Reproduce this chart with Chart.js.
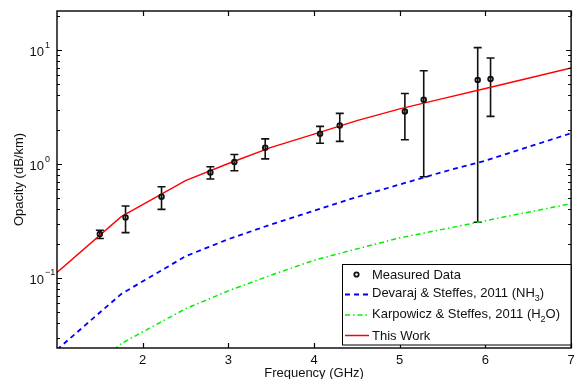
<!DOCTYPE html>
<html>
<head>
<meta charset="utf-8">
<script src="https://cdn.jsdelivr.net/npm/chart.js@4"></script>
<style>
html, body { margin: 0; padding: 0; background: #fff; }
</style>
</head>
<body>
<canvas id="myChart" width="577" height="379"></canvas>
<script>
// measured points (GHz, dB/km) with error bar limits
const freqMeas = [1.50, 1.80, 2.22, 2.79, 3.07, 3.43, 4.07, 4.30, 5.06, 5.28, 5.91, 6.06];
const opacMeas = [0.243, 0.340, 0.517, 0.844, 1.04, 1.39, 1.84, 2.18, 2.89, 3.66, 5.46, 5.57];
const errLow   = [0.222, 0.250, 0.400, 0.739, 0.873, 1.11, 1.52, 1.58, 1.63, 0.774, 0.308, 2.62];
const errHigh  = [0.262, 0.428, 0.632, 0.947, 1.21, 1.66, 2.14, 2.78, 4.16, 6.58, 10.5, 8.5];

// model curves
const modelFreq = [1, 1.75, 2.5, 3, 3.5, 4, 4.5, 5, 5.5, 6, 6.5, 7];
const thisWork  = [0.112, 0.345, 0.714, 1.01, 1.40, 1.83, 2.40, 3.05, 3.75, 4.60, 5.66, 6.95];
const devaraj   = [0.0235, 0.0724, 0.155, 0.219, 0.295, 0.389, 0.513, 0.661, 0.851, 1.07, 1.41, 1.86];
const karpowicz = [0.0087, 0.0266, 0.0537, 0.0771, 0.106, 0.143, 0.180, 0.225, 0.267, 0.318, 0.378, 0.449];

const xTicks = [2, 3, 4, 5, 6, 7];
const yDecades = [-2, -1, 0, 1];
const yLabelExp = { '-1': '\u22121', '0': '0', '1': '1' };

const FONT = '"Liberation Sans", Arial, Helvetica, sans-serif';

let puntos = (xs, ys) => xs.map((x, i) => ({ x: x, y: ys[i] }));

const ejesPlugin = {
    id: 'ejes',
    beforeDatasetsDraw(chart) {
        const c = chart.ctx;
        const xs = chart.scales.x, ys = chart.scales.y;
        c.save();
        c.strokeStyle = '#111';
        c.lineWidth = 1.6;
        freqMeas.forEach((f, i) => {
            const px = xs.getPixelForValue(f);
            const pTop = ys.getPixelForValue(errHigh[i]);
            const pBot = ys.getPixelForValue(errLow[i]);
            c.beginPath();
            c.moveTo(px, pTop); c.lineTo(px, pBot);
            c.moveTo(px - 4, pTop); c.lineTo(px + 4, pTop);
            c.moveTo(px - 4, pBot); c.lineTo(px + 4, pBot);
            c.stroke();
        });
        c.restore();
    },
    afterDatasetsDraw(chart) {
        const c = chart.ctx;
        const a = chart.chartArea;
        const xs = chart.scales.x, ys = chart.scales.y;
        c.save();
        c.strokeStyle = '#000';
        c.lineWidth = 1.4;
        c.strokeRect(a.left, a.top, a.right - a.left, a.bottom - a.top);

        // x ticks (inward, bottom and top)
        c.lineWidth = 1.2;
        c.beginPath();
        xTicks.forEach(v => {
            const px = Math.round(xs.getPixelForValue(v)) + 0.5;
            c.moveTo(px, a.bottom); c.lineTo(px, a.bottom - 5);
            c.moveTo(px, a.top); c.lineTo(px, a.top + 5);
        });
        // y ticks (log, inward, left and right)
        yDecades.forEach(d => {
            for (let m = 1; m <= 9; m++) {
                const v = m * Math.pow(10, d);
                if (v < ys.min || v > ys.max) continue;
                const py = Math.round(ys.getPixelForValue(v)) + 0.5;
                const len = m === 1 ? 5 : 3;
                c.moveTo(a.left, py); c.lineTo(a.left + len, py);
                c.moveTo(a.right, py); c.lineTo(a.right - len, py);
            }
        });
        c.stroke();

        c.fillStyle = '#111';
        // x labels
        c.font = '13px ' + FONT;
        c.textAlign = 'center';
        c.textBaseline = 'alphabetic';
        xTicks.forEach(v => {
            c.fillText(String(v), xs.getPixelForValue(v), a.bottom + 16);
        });
        c.fillText('Frequency (GHz)', (a.left + a.right) / 2, a.bottom + 29);

        // y labels 10^n
        yDecades.forEach(d => {
            const v = Math.pow(10, d);
            if (v < ys.min || v > ys.max) return;
            const py = ys.getPixelForValue(v);
            c.font = '13px ' + FONT;
            c.textAlign = 'right';
            c.fillText('10', a.left - 13, py + 6);
            c.font = '9px ' + FONT;
            c.textAlign = 'left';
            c.fillText(yLabelExp[String(d)], a.left - 12, py - 2.5);
        });

        // y title
        c.save();
        c.translate(23, (a.top + a.bottom) / 2);
        c.rotate(-Math.PI / 2);
        c.font = '13px ' + FONT;
        c.textAlign = 'center';
        c.fillText('Opacity (dB/km)', 0, 0);
        c.restore();

        // legend
        const lx = 342.5, ly = 264.5, lw = 228.5, lh = 80.5;
        c.fillStyle = '#fff';
        c.fillRect(lx, ly, lw, lh);
        c.strokeStyle = '#000';
        c.lineWidth = 1;
        c.strokeRect(lx, ly, lw, lh);

        const filas = [274.5, 294.5, 315, 335.5];
        const x0 = 345, x1 = 369, tx = 372;
        // measured marker
        c.strokeStyle = '#111';
        c.lineWidth = 1.8;
        c.beginPath();
        c.arc((x0 + x1) / 2 - 0.5, filas[0], 2.2, 0, Math.PI * 2);
        c.stroke();
        // devaraj
        c.strokeStyle = '#0000ff'; c.lineWidth = 1.8; c.setLineDash([5, 4]);
        c.beginPath(); c.moveTo(x0, filas[1]); c.lineTo(x1, filas[1]); c.stroke();
        // karpowicz
        c.strokeStyle = '#00f000'; c.lineWidth = 1.5; c.setLineDash([5, 3, 1.5, 3]);
        c.beginPath(); c.moveTo(x0, filas[2]); c.lineTo(x1, filas[2]); c.stroke();
        // this work
        c.strokeStyle = '#ff0000'; c.lineWidth = 1.5; c.setLineDash([]);
        c.beginPath(); c.moveTo(x0, filas[3]); c.lineTo(x1, filas[3]); c.stroke();

        c.fillStyle = '#111';
        c.textAlign = 'left';
        const texto = (partes, y) => {
            let x = tx;
            partes.forEach(p => {
                c.font = (p.sub ? '9px ' : '13px ') + FONT;
                c.fillText(p.t, x, y + (p.sub ? 4 : 0));
                x += c.measureText(p.t).width;
            });
        };
        texto([{ t: 'Measured Data' }], filas[0] + 4.5);
        texto([{ t: 'Devaraj & Steffes, 2011 (NH' }, { t: '3', sub: true }, { t: ')' }], filas[1] + 2.5);
        texto([{ t: 'Karpowicz & Steffes, 2011 (H' }, { t: '2', sub: true }, { t: 'O)' }], filas[2] + 2.5);
        texto([{ t: 'This Work' }], filas[3] + 4.5);
        c.restore();
    }
};

const ctx = document.getElementById('myChart');

let chart = new Chart(ctx, {
    type: 'line',
    data: {
        datasets: [{
            label: 'Measured Data',
            data: puntos(freqMeas, opacMeas),
            showLine: false,
            pointRadius: 2.3,
            pointBorderWidth: 1.9,
            pointBorderColor: '#111',
            pointBackgroundColor: 'rgba(0,0,0,0)'
        },
        {
            label: 'This Work',
            data: puntos(modelFreq, thisWork),
            borderColor: '#ff0000',
            borderWidth: 1.4,
            pointRadius: 0
        },
        {
            label: 'Devaraj & Steffes, 2011 (NH3)',
            data: puntos(modelFreq, devaraj),
            borderColor: '#0000ff',
            borderWidth: 1.8,
            borderDash: [5, 4],
            pointRadius: 0
        },
        {
            label: 'Karpowicz & Steffes, 2011 (H2O)',
            data: puntos(modelFreq, karpowicz),
            borderColor: '#00f000',
            borderWidth: 1.5,
            borderDash: [5, 3, 1.5, 3],
            pointRadius: 0
        }]
    },
    options: {
        responsive: false,
        animation: false,
        devicePixelRatio: 1,
        layout: { padding: { top: 11, right: 4, left: 0, bottom: 0 } },
        scales: {
            x: {
                type: 'linear',
                min: 1,
                max: 7,
                afterFit: s => { s.height = 31; },
                ticks: { display: false },
                grid: { display: false },
                border: { display: false }
            },
            y: {
                type: 'logarithmic',
                min: 0.0243,
                max: 22,
                afterFit: s => { s.width = 57; },
                ticks: { display: false },
                grid: { display: false },
                border: { display: false }
            }
        },
        plugins: {
            legend: { display: false },
            tooltip: { enabled: false }
        }
    },
    plugins: [ejesPlugin]
});
</script>
</body>
</html>
